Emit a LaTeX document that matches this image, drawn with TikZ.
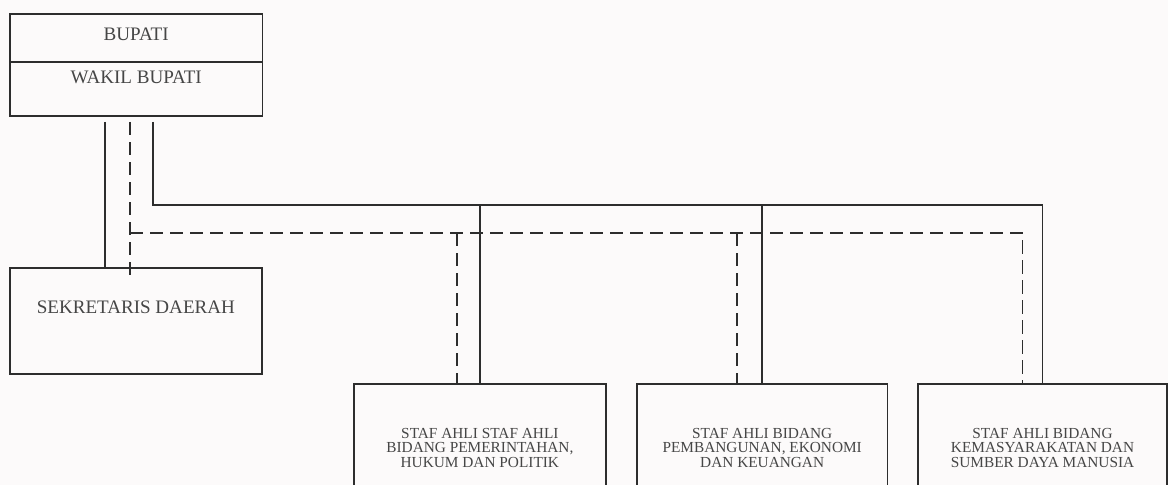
\documentclass[tikz,border=0pt]{standalone}
\usepackage{fontspec}
\setmainfont{Liberation Serif}
\usetikzlibrary{positioning}
\definecolor{inkLine}{RGB}{45,45,45}
\definecolor{inkText}{RGB}{70,70,70}
\definecolor{paper}{RGB}{252,250,250}
\tikzset{
    every node/.append style={align=center},
    unit/.style={rectangle,draw=inkLine,line width=1.3pt,text=inkText,inner xsep=0pt,inner ysep=0pt,
        minimum width=189.5pt,font=\fontsize{14.3}{16}\selectfont},
    staf/.style={rectangle,draw=inkLine,line width=1.3pt,text=inkText,minimum width=189pt,
        minimum height=96pt,font=\fontsize{11.5}{10.9}\selectfont},
    link/.style={draw=inkLine,line width=1.3pt},
    dlink/.style={draw=inkLine,line width=1.3pt,dash pattern=on 10pt off 5pt}
}

\begin{document}
\begin{tikzpicture}[x=0.75pt,y=-0.75pt]
    \useasboundingbox (0,0) rectangle (1168,485);
    \clip (0,0) rectangle (1168,485);
    \fill[paper] (0,0) rectangle (1168,485);

    \node[unit,anchor=north west,text height=20.25pt,text depth=15.75pt] (bupati) at (9,13) {BUPATI};
    \node[unit,anchor=north west,text height=16.5pt,text depth=24pt] (wakil) at (9,61) {WAKIL BUPATI};
    \node[unit,anchor=north west,minimum width=189pt,text height=34.5pt,text depth=45pt] (sek) at (9,267) {SEKRETARIS DAERAH};

    \node[staf,anchor=north west] (staf1) at (353,383) {STAF AHLI STAF AHLI\\BIDANG PEMERINTAHAN,\\HUKUM DAN POLITIK};
    \node[staf,anchor=north west,minimum width=188pt] (staf2) at (636,383) {STAF AHLI BIDANG\\PEMBANGUNAN, EKONOMI\\DAN KEUANGAN};
    \node[staf,anchor=north west,minimum width=187pt] (staf3) at (917,383) {STAF AHLI BIDANG\\KEMASYARAKATAN DAN\\SUMBER DAYA MANUSIA};

    \coordinate (sbus) at (0,205);
    \coordinate (dbus) at (0,233);
    \coordinate (s1) at (105,122);
    \coordinate (d0) at (130,122);
    \coordinate (d0end) at (130,276);
    \coordinate (s2) at (153,122);
    \foreach \b/\o in {staf1/-17pt,staf2/-19pt,staf3/-15pt} { \coordinate (d\b) at ([xshift=\o]\b.north); }

    % garis komando
    \draw[link] (s1) -- (s1 |- sek.north);
    \draw[link] (s2) |- (staf3.north |- sbus) -- (staf3.north);
    \foreach \b in {staf1,staf2} { \draw[link] (\b.north |- sbus) -- (\b.north); }

    % garis koordinasi
    \draw[dlink] (d0) -- (d0end);
    \draw[dlink] (d0 |- dbus) -| (dstaf3);
    \foreach \b in {dstaf1,dstaf2} { \draw[dlink] (\b |- dbus) -- (\b); }
\end{tikzpicture}
\end{document}
